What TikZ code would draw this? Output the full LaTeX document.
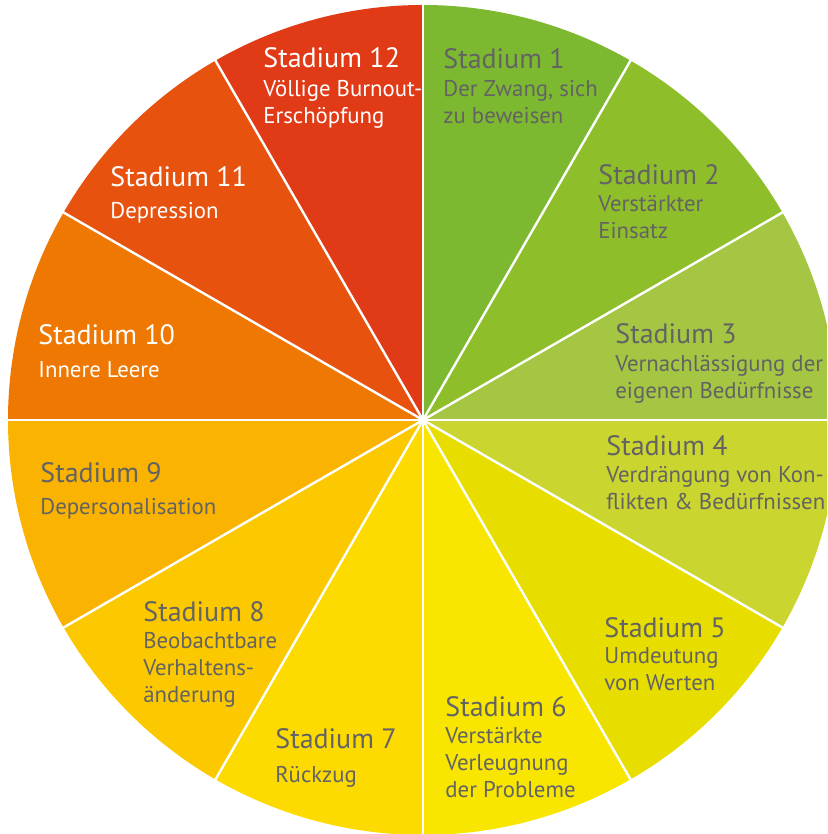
\documentclass[tikz,border=0pt]{standalone}
\usepackage{fontspec}
\setmainfont{PT Sans}
\definecolor{st1}{HTML}{7DB930}
\definecolor{st2}{HTML}{8FBE2B}
\definecolor{st3}{HTML}{A5C642}
\definecolor{st4}{HTML}{CBD52F}
\definecolor{st5}{HTML}{E7DE00}
\definecolor{st6}{HTML}{F8E600}
\definecolor{st7}{HTML}{FDDA00}
\definecolor{st8}{HTML}{FCC900}
\definecolor{st9}{HTML}{FAB300}
\definecolor{st10}{HTML}{EE7802}
\definecolor{st11}{HTML}{E8520F}
\definecolor{st12}{HTML}{E03A16}
\definecolor{txtgray}{HTML}{636363}

\begin{document}
\begin{tikzpicture}[x=0.5pt,y=0.5pt,
  title/.style={anchor=base west,inner sep=0pt,font=\fontsize{14}{16}\selectfont},
  desc/.style={anchor=base west,inner sep=0pt,align=left,font=\fontsize{11.4}{13.5}\selectfont},
  dark/.style={text=txtgray},
  light/.style={text=white}]
 \useasboundingbox (-423,-414) rectangle (404,420);
 \clip (-423,-414) rectangle (404,420);
 \coordinate (c) at (0,0);
 % the twelve slices, clockwise from the top
 \foreach \i in {1,...,12} {
   \pgfmathsetmacro{\a}{120-30*\i}
   \fill[st\i] (c) -- (\a:415) arc[start angle=\a, end angle=\a-30, radius=415] -- cycle;
 }
 \foreach \i in {0,...,11}
   \draw[white, line width=1.2pt] (c) -- ({90-30*\i}:420);

 % desc nodes sit on the baseline of their last line
 \node[title,dark] (t1) at (20,351)   {Stadium 1};
 \node[desc,dark]  (d1) at (20,296)   {Der Zwang, sich\\zu beweisen};
 \node[title,dark] (t2) at (175,235)  {Stadium 2};
 \node[desc,dark]  (d2) at (175,181)  {Verstärkter\\Einsatz};
 \node[title,dark] (t3) at (192,76)   {Stadium 3};
 \node[desc,dark]  (d3) at (192,21)   {Vernachlässigung der\\eigenen Bedürfnisse};
 \node[title,dark] (t4) at (183,-36)  {Stadium 4};
 \node[desc,dark]  (d4) at (183,-90)  {Verdrängung von Kon-\\flikten \& Bedürfnissen};
 \node[title,dark] (t5) at (181,-217) {Stadium 5};
 \node[desc,dark]  (d5) at (181,-270) {Umdeutung\\von Werten};
 \node[title,dark] (t6) at (22,-296)  {Stadium 6};
 \node[desc,dark]  (d6) at (22,-377)  {Verstärkte\\Verleugnung\\der Probleme};
 \node[title,dark] (t7) at (-148,-328) {Stadium 7};
 \node[desc,dark]  (d7) at (-148,-362) {Rückzug};
 \node[title,dark] (t8) at (-280,-201) {Stadium 8};
 \node[desc,dark]  (d8) at (-280,-282) {Beobachtbare\\Verhaltens-\\änderung};
 \node[title,dark] (t9) at (-383,-63)  {Stadium 9};
 \node[desc,dark]  (d9) at (-383,-95)  {Depersonalisation};
 \node[title,light] (t10) at (-385,75)  {Stadium 10};
 \node[desc,light]  (d10) at (-385,42)  {Innere Leere};
 \node[title,light] (t11) at (-313,233) {Stadium 11};
 \node[desc,light]  (d11) at (-313,201) {Depression};
 \node[title,light] (t12) at (-160,352) {Stadium 12};
 \node[desc,light]  (d12) at (-160,296) {Völlige Burnout-\\Erschöpfung};
\end{tikzpicture}
\end{document}
